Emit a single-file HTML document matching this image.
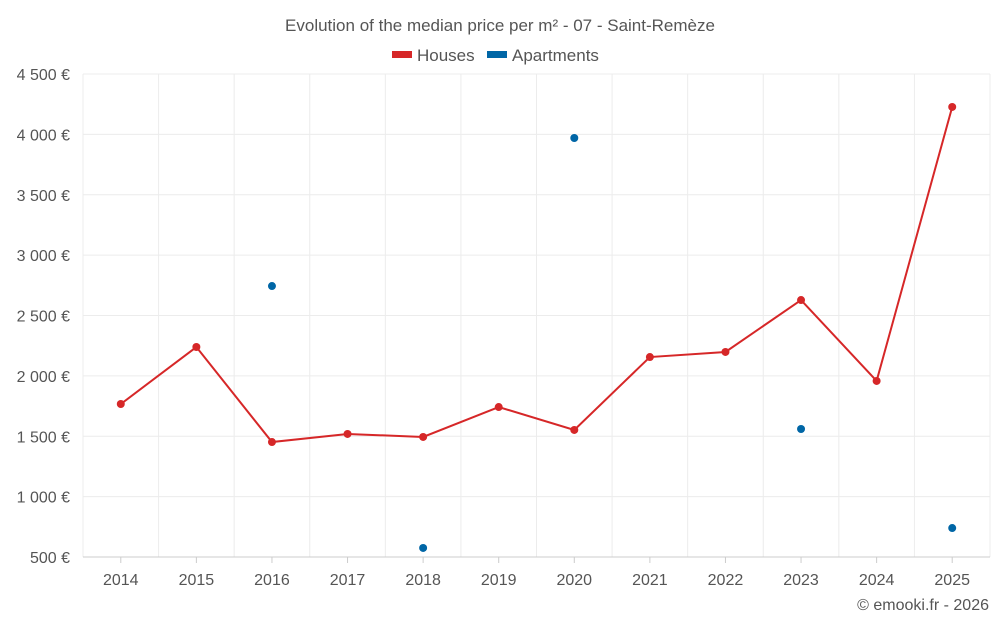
<!DOCTYPE html>
<html><head><meta charset="utf-8"><style>
body{margin:0;background:#fff;width:1000px;height:625px;overflow:hidden;font-family:"Liberation Sans",sans-serif}
svg text{font-family:"Liberation Sans",sans-serif;fill:#555}
</style></head><body>
<svg id="chart" width="1000" height="625">
<text x="500" y="31" text-anchor="middle" font-size="17">Evolution of the median price per m² - 07 - Saint-Remèze</text>
<g>
<g><rect x="392" y="51" width="20" height="7" fill="#d62728"/><text x="417" y="61" font-size="17">Houses</text></g>
<g><rect x="487" y="51" width="20" height="7" fill="#0066a6"/><text x="512" y="61" font-size="17">Apartments</text></g>
</g>
<g id="grid"></g><g id="axes"></g><g id="marks"></g>
<text x="989" y="610" text-anchor="end" font-size="16">© emooki.fr - 2026</text>
</svg>
<script>
const years=[2014,2015,2016,2017,2018,2019,2020,2021,2022,2023,2024,2025];
const houses=[1767,2239,1452,1519,1494,1742,1552,2156,2198,2628,1958,4227];
const apartments=[null,null,2744,null,575,null,3970,null,null,1560,null,740];
const yTicks=[500,1000,1500,2000,2500,3000,3500,4000,4500];
const yLabels=["500 €","1 000 €","1 500 €","2 000 €","2 500 €","3 000 €","3 500 €","4 000 €","4 500 €"];
const L=83,R=990,T=74,B=557,ymin=500,ymax=4500;
const bw=(R-L)/years.length;
const xs=i=>L+bw*(i+0.5);
const ys=v=>B-(v-ymin)/(ymax-ymin)*(B-T);
const NS="http://www.w3.org/2000/svg";
function mk(tag,attrs,parent){const e=document.createElementNS(NS,tag);for(const k in attrs)e.setAttribute(k,attrs[k]);document.getElementById(parent).appendChild(e);return e;}
yTicks.forEach((t,i)=>{
 const g=mk('line',{x1:L,x2:R,y1:ys(t),y2:ys(t),stroke:'#ececec'},'grid');
 
 
 const tx=mk('text',{x:70,y:ys(t)+6,'text-anchor':'end','font-size':16},'axes');
 tx.textContent=yLabels[i];
 
 
});
for(let i=0;i<=years.length;i++){
 const g=mk('line',{x1:L+bw*i,x2:L+bw*i,y1:T,y2:B,stroke:'#ececec'},'grid');
 
 
}
years.forEach((y,i)=>{
 const tk=mk('line',{x1:xs(i),x2:xs(i),y1:B,y2:B+6,stroke:'#ccc'},'axes');
 
 
 const tx=mk('text',{x:xs(i),y:585,'text-anchor':'middle','font-size':16},'axes');
 tx.textContent=y;
 
 
});
const ax=mk('line',{x1:L,x2:R,y1:B,y2:B,stroke:'#ccc'},'axes');


const pl=mk('polyline',{points:houses.map((v,i)=>xs(i)+','+ys(v)).join(' '),fill:'none',stroke:'#d62728','stroke-width':2},'marks');


houses.forEach((v,i)=>{
 const c=mk('circle',{cx:xs(i),cy:ys(v),r:4,fill:'#d62728'},'marks');
 
 
});
apartments.forEach((v,i)=>{
 if(v==null)return;
 const c=mk('circle',{cx:xs(i),cy:ys(v),r:4,fill:'#0066a6'},'marks');
 
 
});
</script>
</body></html>
